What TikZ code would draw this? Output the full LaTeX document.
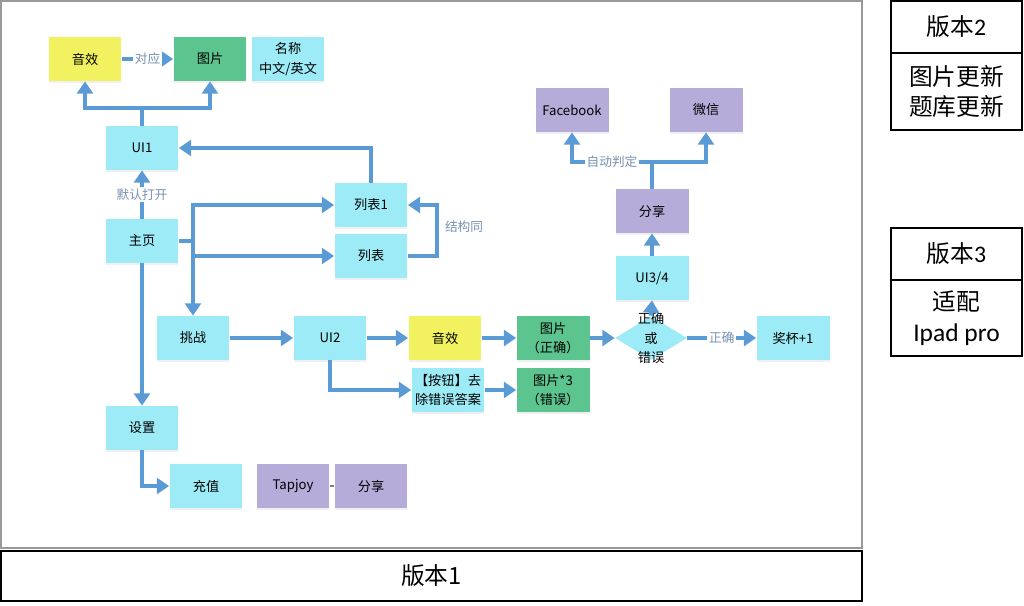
\documentclass[tikz,border=0pt]{standalone}
\usepackage{fontspec}
\setmainfont{Noto Sans CJK SC}
\newfontfamily\latinfont{Carlito}
\usetikzlibrary{arrows.meta,shapes.geometric,shadows}

\definecolor{boxcyan}{RGB}{157,235,246}
\definecolor{boxyellow}{RGB}{242,242,96}
\definecolor{boxgreen}{RGB}{92,196,142}
\definecolor{boxpurple}{RGB}{182,172,218}
\definecolor{flowblue}{RGB}{91,155,213}
\definecolor{lblgray}{RGB}{120,145,178}

\tikzset{
	box/.style={minimum width=1.46cm, minimum height=0.88cm, inner sep=1pt, align=center,
		font=\fontsize{7.5pt}{11pt}\selectfont,
		drop shadow={shadow xshift=0pt, shadow yshift=-1.2pt, opacity=0.12}},
	cyanbox/.style={box, fill=boxcyan},
	yellowbox/.style={box, fill=boxyellow},
	greenbox/.style={box, fill=boxgreen},
	purplebox/.style={box, fill=boxpurple},
	dia/.style={diamond, fill=boxcyan, minimum width=1.44cm, minimum height=0.88cm, inner sep=0pt},
	flow/.style={draw=flowblue, line width=2.5pt, -{Triangle[width=9pt,length=7pt]}},
	lbl/.style={text=lblgray, font=\fontsize{7.2pt}{9pt}\selectfont, fill=white, inner sep=1pt},
	verbox/.style={draw=black, line width=0.6pt, minimum width=2.62cm, align=center,
		font=\fontsize{13.5pt}{17.5pt}\selectfont}
}

\begin{document}
\begin{tikzpicture}[x=0.02cm, y=-0.02cm]
			%%%%% START %%%%%
			\useasboundingbox (0,0) rectangle (1024,605);
			
			\draw[draw=gray!80, line width=1pt] (1,1) rectangle (862,548);
			\node[draw=black, line width=0.9pt, minimum width=17.22cm, minimum height=1cm,
				font=\fontsize{13.5pt}{14pt}\selectfont] (v1) at (431.5,576) {版本1};
			
			\node[verbox, minimum height=1.04cm] (v2h) at (956.5,27) {版本\latinfont 2};
			\node[verbox, minimum height=1.54cm] (v2b) at (956.5,91.5) {图片更新\\题库更新};
			\node[verbox, minimum height=1.04cm] (v3h) at (956.5,254) {版本\latinfont 3};
			\node[verbox, minimum height=1.52cm] (v3b) at (956.5,318) {适配\\{\latinfont\fontsize{14.5pt}{17.5pt}\selectfont Ipad pro}};
			
			\node[yellowbox] (yx1) at (85,59) {音效};
			\node[greenbox] (tp1) at (210,59) {图片};
			\node[cyanbox] (mc) at (288,59) {名称\\中文/英文};
			\node[cyanbox] (ui1) at (142,148) {UI1};
			\node[cyanbox] (home) at (142,241) {主页};
			\node[cyanbox] (lb1) at (371,205) {列表1};
			\node[cyanbox] (lb) at (371,256) {列表};
			
			\node[cyanbox] (tz) at (193,338) {挑战};
			\node[cyanbox] (ui2) at (330,338) {UI2};
			\node[yellowbox] (yx2) at (445,338) {音效};
			\node[greenbox] (tp2) at (553,338) {图片\\（正确）};
			\node[cyanbox] (btn) at (448,390) {【按钮】去\\除错误答案};
			\node[greenbox] (tp3) at (553,390) {图片*3\\（错误）};
			\node[dia, label={[align=center, font=\fontsize{7.5pt}{11pt}\selectfont]center:正确\\或\\错误}] (pd) at (651,338) {};
			\node[cyanbox] (jb) at (793,338) {奖杯+1};
			
			\node[cyanbox] (ui34) at (652,278) {UI3/4};
			\node[purplebox] (fx1) at (652,211) {分享};
			\node[purplebox] (fb) at (572,110) {Facebook};
			\node[purplebox] (wx) at (706,110) {微信};
			
			\node[cyanbox] (set) at (142,428) {设置};
			\node[cyanbox] (cz) at (206,486) {充值};
			\node[purplebox] (tj) at (293,486) {Tapjoy};
			\node[purplebox] (fx2) at (371,486) {分享};
			
			\coordinate (fk) at (142,108);
			\coordinate (hs) at (193,241);
			\coordinate (fk2) at (652,162);
			
			\draw[flow] (yx1) -- node[lbl] {对应} (tp1);
			\draw[flow] (ui1.north) -- (fk) -| (yx1.south);
			\draw[flow] (fk) -| (tp1.south);
			\draw[flow] (home) -- node[lbl] {默认打开} (ui1);
			\draw[flow] (lb1.north) |- (ui1.east);
			\draw[flow] (home.east) -- (hs) |- (lb1.west);
			\draw[flow] (hs) |- (lb.west);
			\draw[flow] (hs) -- (tz.north);
			\draw[flow] (lb.east) -- ++(29,0) |- (lb1.east);
			\node[lbl, fill=none] (jgt) at (464,227) {结构同};
			
			\draw[flow] (tz) -- (ui2);
			\draw[flow] (ui2) -- (yx2);
			\draw[flow] (yx2) -- (tp2);
			\draw[flow] (tp2) -- (pd.west);
			\draw[flow] (ui2.south) |- (btn.west);
			\draw[flow] (btn) -- (tp3);
			\draw[flow] (pd.east) -- node[lbl] {正确} (jb);
			\draw[flow] (pd.north) -- (ui34.south);
			\draw[flow] (ui34) -- (fx1);
			\draw[flow] (fx1.north) -- (fk2) -| node[lbl, pos=0.25] {自动判定} (fb.south);
			\draw[flow] (fk2) -| (wx.south);
			
			\draw[flow] (home.south) -- (set.north);
			\draw[flow] (set.south) |- (cz.west);
			\draw[gray, line width=1pt] (tj) -- (fx2);
			%%%%% END %%%%%
\end{tikzpicture}
\end{document}
